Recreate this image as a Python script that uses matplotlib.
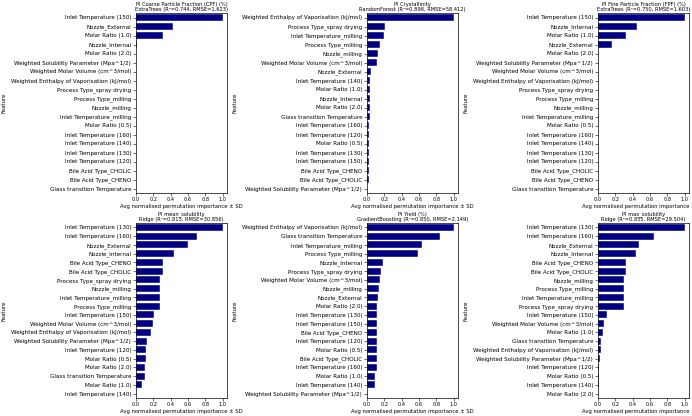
import matplotlib.pyplot as plt

# feature importances (sorted as shown, top to bottom)
cpf_features = ['Inlet Temperature (150)', 'Nozzle_External', 'Molar Ratio (1.0)', 'Nozzle_Internal',
                'Molar Ratio (2.0)', 'Weighted Solubility Parameter (Mpa^1/2)', 'Weighted Molar Volume (cm^3/mol)',
                'Weighted Enthalpy of Vaporisation (kJ/mol)', 'Process Type_spray drying', 'Process Type_milling',
                'Nozzle_milling', 'Inlet Temperature_milling', 'Molar Ratio (0.5)', 'Inlet Temperature (160)',
                'Inlet Temperature (140)', 'Inlet Temperature (130)', 'Inlet Temperature (120)',
                'Bile Acid Type_CHOLIC', 'Bile Acid Type_CHENO', 'Glass transition Temperature']
cpf_values = [1.0, 0.43, 0.31, 0.01, 0, 0, 0, 0, 0, 0, 0, 0, 0, 0, 0, 0, 0, 0, 0, 0]

cry_features = ['Weighted Enthalpy of Vaporisation (kJ/mol)', 'Process Type_spray drying', 'Inlet Temperature_milling',
                'Process Type_milling', 'Nozzle_milling', 'Weighted Molar Volume (cm^3/mol)', 'Nozzle_External',
                'Inlet Temperature (140)', 'Molar Ratio (1.0)', 'Nozzle_Internal', 'Molar Ratio (2.0)',
                'Glass transition Temperature', 'Inlet Temperature (160)', 'Inlet Temperature (120)',
                'Molar Ratio (0.5)', 'Inlet Temperature (130)', 'Inlet Temperature (150)', 'Bile Acid Type_CHENO',
                'Bile Acid Type_CHOLIC', 'Weighted Solubility Parameter (Mpa^1/2)']
cry_values = [1.0, 0.21, 0.20, 0.15, 0.13, 0.11, 0.05, 0.04, 0.035, 0.032, 0.032, 0.03, 0.026, 0.026,
              0.024, 0.022, 0.022, 0.02, 0.019, 0.0]

fpf_features = ['Inlet Temperature (150)', 'Nozzle_Internal', 'Molar Ratio (1.0)', 'Nozzle_External',
                'Molar Ratio (2.0)', 'Weighted Solubility Parameter (Mpa^1/2)', 'Weighted Molar Volume (cm^3/mol)',
                'Weighted Enthalpy of Vaporisation (kJ/mol)', 'Process Type_spray drying', 'Process Type_milling',
                'Nozzle_milling', 'Inlet Temperature_milling', 'Molar Ratio (0.5)', 'Inlet Temperature (160)',
                'Inlet Temperature (140)', 'Inlet Temperature (130)', 'Inlet Temperature (120)',
                'Bile Acid Type_CHOLIC', 'Bile Acid Type_CHENO', 'Glass transition Temperature']
fpf_values = [1.0, 0.45, 0.32, 0.16, 0, 0, 0, 0, 0, 0, 0, 0, 0, 0, 0, 0, 0, 0, 0, 0]

mean_features = ['Inlet Temperature (130)', 'Inlet Temperature (160)', 'Nozzle_External', 'Nozzle_Internal',
                 'Bile Acid Type_CHENO', 'Bile Acid Type_CHOLIC', 'Process Type_spray drying', 'Nozzle_milling',
                 'Inlet Temperature_milling', 'Process Type_milling', 'Inlet Temperature (150)',
                 'Weighted Molar Volume (cm^3/mol)', 'Weighted Enthalpy of Vaporisation (kJ/mol)',
                 'Weighted Solubility Parameter (Mpa^1/2)', 'Inlet Temperature (120)', 'Molar Ratio (0.5)',
                 'Molar Ratio (2.0)', 'Glass transition Temperature', 'Molar Ratio (1.0)', 'Inlet Temperature (140)']
mean_values = [1.0, 0.70, 0.60, 0.44, 0.31, 0.31, 0.28, 0.28, 0.28, 0.28, 0.21, 0.20, 0.17, 0.13,
               0.12, 0.12, 0.10, 0.10, 0.07, 0.0]

yield_features = ['Weighted Enthalpy of Vaporisation (kJ/mol)', 'Glass transition Temperature',
                  'Inlet Temperature_milling', 'Process Type_milling', 'Nozzle_Internal', 'Process Type_spray drying',
                  'Weighted Molar Volume (cm^3/mol)', 'Nozzle_milling', 'Nozzle_External', 'Molar Ratio (2.0)',
                  'Inlet Temperature (130)', 'Inlet Temperature (150)', 'Bile Acid Type_CHENO',
                  'Inlet Temperature (120)', 'Molar Ratio (0.5)', 'Bile Acid Type_CHOLIC', 'Inlet Temperature (160)',
                  'Molar Ratio (1.0)', 'Inlet Temperature (140)', 'Weighted Solubility Parameter (Mpa^1/2)']
yield_values = [1.0, 0.84, 0.63, 0.59, 0.18, 0.16, 0.15, 0.14, 0.13, 0.12, 0.115, 0.11, 0.11, 0.11,
                0.11, 0.11, 0.11, 0.09, 0.09, 0.0]

max_features = ['Inlet Temperature (130)', 'Inlet Temperature (160)', 'Nozzle_External', 'Nozzle_Internal',
                'Bile Acid Type_CHENO', 'Bile Acid Type_CHOLIC', 'Nozzle_milling', 'Process Type_milling',
                'Inlet Temperature_milling', 'Process Type_spray drying', 'Inlet Temperature (150)',
                'Weighted Molar Volume (cm^3/mol)', 'Molar Ratio (1.0)', 'Glass transition Temperature',
                'Weighted Enthalpy of Vaporisation (kJ/mol)', 'Weighted Solubility Parameter (Mpa^1/2)',
                'Inlet Temperature (120)', 'Molar Ratio (0.5)', 'Inlet Temperature (140)', 'Molar Ratio (2.0)']
max_values = [1.0, 0.65, 0.47, 0.44, 0.32, 0.32, 0.30, 0.30, 0.30, 0.30, 0.10, 0.07, 0.06, 0.04,
              0.035, 0.025, 0.01, 0.01, 0.01, 0.0]

titles = ['PI Coarse Particle Fraction (CPF) (%)\nExtraTrees (R²=0.744, RMSE=1.623)',
          'PI Crystallinity\nRandomForest (R²=0.898, RMSE=58.412)',
          'PI Fine Particle Fraction (FPF) (%)\nExtraTrees (R²=0.750, RMSE=1.603)',
          'PI mean_solubility\nRidge (R²=0.813, RMSE=30.856)',
          'PI Yield (%)\nGradientBoosting (R²=0.850, RMSE=2.149)',
          'PI max_solubility\nRidge (R²=0.855, RMSE=29.504)']

panels = [(cpf_features, cpf_values), (cry_features, cry_values), (fpf_features, fpf_values),
          (mean_features, mean_values), (yield_features, yield_values), (max_features, max_values)]

fig = plt.figure(figsize=(6.92, 4.16), dpi=100)

W, H = 692.0, 416.0
lefts = [136, 367, 598]
rows = [(13, 193), (223, 398)]

for i, ((feats, vals), title) in enumerate(zip(panels, titles)):
    r, c = divmod(i, 3)
    top, bot = rows[r]
    ax = fig.add_axes([lefts[c] / W, 1 - bot / H, 91 / W, (bot - top) / H])
    y = list(range(len(feats)))
    ax.barh(y, vals, height=0.8, color='#000080', edgecolor='white', linewidth=0.3)
    ax.set_yticks(y)
    ax.set_yticklabels(feats, fontsize=4.1)
    ax.set_ylim(len(feats) - 0.5, -0.5)
    ax.set_xticks([0, 0.2, 0.4, 0.6, 0.8, 1.0])
    ax.tick_params(axis='x', labelsize=3.6, length=2, width=0.4, pad=1)
    ax.tick_params(axis='y', length=2, width=0.4, pad=1.5)
    ax.set_title(title, fontsize=3.7, pad=1.5, linespacing=0.95)
    ax.set_xlabel('Avg normalised permutation importance ± SD', fontsize=3.8, labelpad=1)
    ax.set_ylabel('Feature', fontsize=3.9, labelpad=3)
    for s in ax.spines.values():
        s.set_linewidth(0.5)

fig.savefig('out.png', dpi=100)
